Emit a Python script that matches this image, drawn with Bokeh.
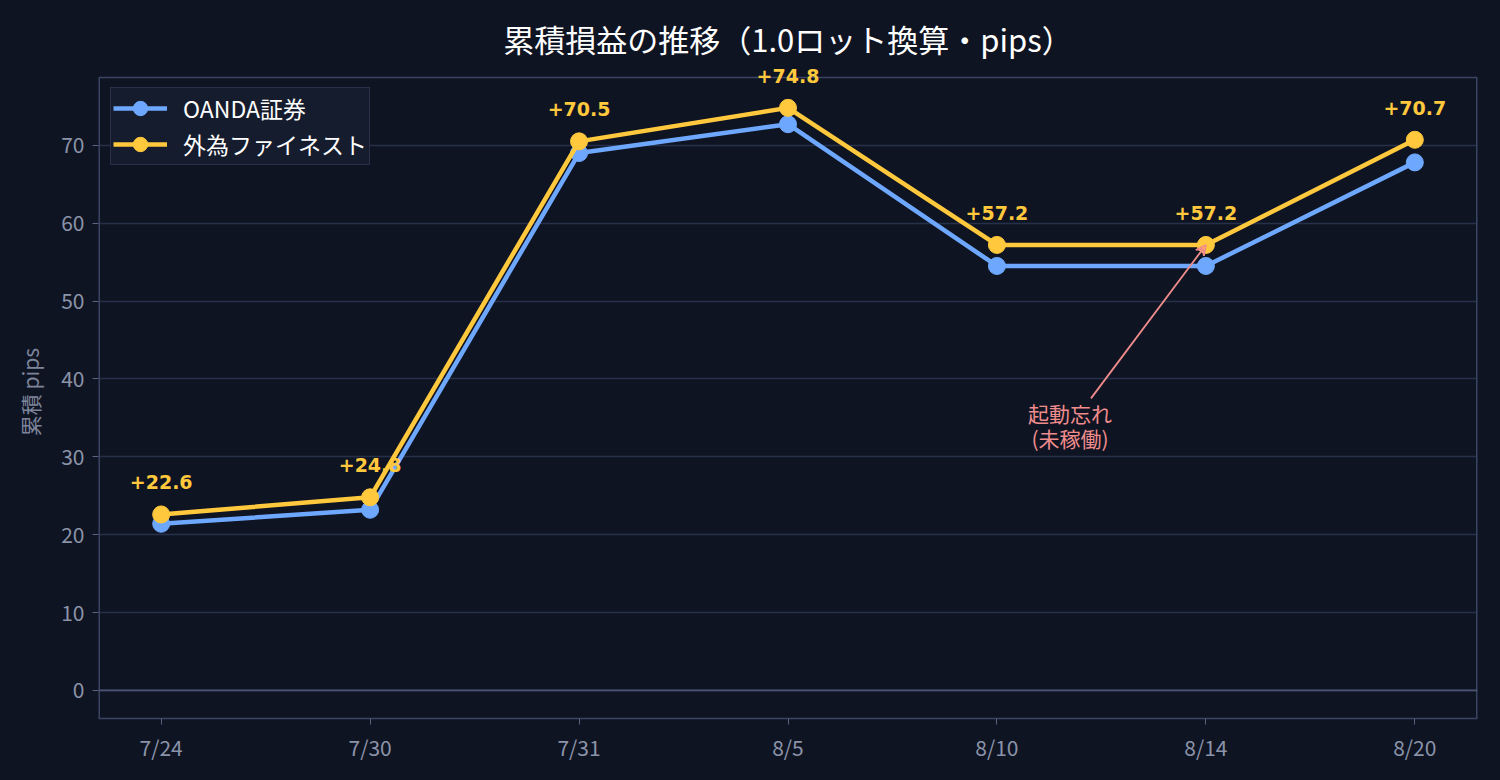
from bokeh.plotting import figure
from bokeh.models import (Range1d, FixedTicker, Span, Arrow, VeeHead, Label,
                          ColumnDataSource, Legend)
from bokeh.embed import file_html
from bokeh.resources import INLINE

# ---- data ----
dates = ["7/24", "7/30", "7/31", "8/5", "8/10", "8/14", "8/20"]
oanda = [21.4, 23.2, 69.0, 72.7, 54.5, 54.5, 67.8]
gaitame = [22.6, 24.8, 70.5, 74.8, 57.2, 57.2, 70.7]
y_ticks = [0, 10, 20, 30, 40, 50, 60, 70]
note_lines = ["起動忘れ", "(未稼働)"]
note_line_y = [35.6, 32.4]
note_text_x = 4.35
note_index = 5
note_arrow_start = (4.45, 37.5)

# axes box limits (the plotted box); the frame extends a little above it
X_LO, X_HI = -0.3, 6.3
Y_LO, Y_HI = -3.6, 78.7
Y_FRAME_TOP = 80.24

BG = "#0f1423"
BLUE = "#6ea8fe"
YELLOW = "#ffc83d"
GRID = "#263049"
SPINE = "#3b4463"
TICK = "#8a93a8"
NOTE = "#f08c8c"
FONT = "Noto Sans CJK JP"

xs = list(range(len(dates)))

p = figure(width=1484, height=764, output_backend="svg", toolbar_location=None,
           x_range=Range1d(X_LO, X_HI), y_range=Range1d(Y_LO, Y_FRAME_TOP),
           min_border_left=98, min_border_right=7, min_border_top=65,
           min_border_bottom=46)
p.background_fill_color = BG
p.border_fill_color = BG
p.outline_line_color = None

p.title.text = "累積損益の推移（1.0ロット換算・pips）"
p.title.align = "center"
p.title.text_color = "#ffffff"
p.title.text_font = FONT
p.title.text_font_size = "31px"
p.title.text_font_style = "normal"

# axes
p.xaxis.ticker = FixedTicker(ticks=xs)
p.xaxis.major_label_overrides = {i: d for i, d in enumerate(dates)}
p.yaxis.ticker = FixedTicker(ticks=y_ticks)
for ax in (p.xaxis[0], p.yaxis[0]):
    ax.axis_line_color = SPINE
    ax.axis_line_width = 1.5
    ax.major_tick_line_color = "#5a6280"
    ax.major_tick_out = 6
    ax.major_tick_in = 0
    ax.minor_tick_line_color = None
    ax.major_label_text_color = TICK
    ax.major_label_text_font = FONT
    ax.major_label_text_font_size = "21px"
p.yaxis.axis_line_color = None
p.xaxis.major_label_standoff = 7
p.yaxis.major_label_standoff = 8
p.yaxis.axis_label = "累積 pips"
p.yaxis.axis_label_text_color = "#7d859b"
p.yaxis.axis_label_text_font = FONT
p.yaxis.axis_label_text_font_size = "21px"
p.yaxis.axis_label_text_font_style = "normal"
p.yaxis.axis_label_standoff = 13

p.xgrid.grid_line_color = None
p.ygrid.grid_line_color = GRID
p.ygrid.grid_line_width = 1.5

# box spines (left, right, top)
p.segment(x0=[X_LO, X_HI, X_LO], y0=[Y_LO, Y_LO, Y_HI],
          x1=[X_LO, X_HI, X_HI], y1=[Y_HI, Y_HI, Y_HI],
          line_color=SPINE, line_width=[3, 3, 1.5])

p.add_layout(Span(location=0, dimension="width", line_color="#4b5372", line_width=1.8))

# series
src = ColumnDataSource(dict(x=xs, oanda=oanda, gaitame=gaitame))
l1 = p.line("x", "oanda", source=src, line_color=BLUE, line_width=4.5)
c1 = p.scatter("x", "oanda", source=src, size=17, fill_color=BLUE, line_color=BLUE)
l2 = p.line("x", "gaitame", source=src, line_color=YELLOW, line_width=4.5)
c2 = p.scatter("x", "gaitame", source=src, size=17, fill_color=YELLOW, line_color=YELLOW)

# value labels
for xi, v in zip(xs, gaitame):
    p.add_layout(Label(x=xi, y=v, text="+%.1f" % v, y_offset=32,
                       text_align="center", text_baseline="middle",
                       text_color=YELLOW, text_font="DejaVu Sans",
                       text_font_size="19px", text_font_style="bold"))

# annotation
p.add_layout(Arrow(end=VeeHead(size=10, line_color=NOTE, line_width=1.8, fill_color=None),
                   x_start=note_arrow_start[0], y_start=note_arrow_start[1],
                   x_end=xs[note_index], y_end=gaitame[note_index],
                   line_color=NOTE, line_width=1.8))
for txt, ty in zip(note_lines, note_line_y):
    p.add_layout(Label(x=note_text_x, y=ty, text=txt,
                       text_align="center", text_baseline="middle", text_color=NOTE,
                       text_font=FONT, text_font_size="21px"))

legend = Legend(items=[("OANDA証券", [l1, c1]), ("外為ファイネスト", [l2, c2])],
                location=(12, 553), padding=2, spacing=0,
                glyph_width=54, glyph_height=36, label_height=26, label_standoff=16,
                label_text_color="#ffffff", label_text_font=FONT,
                label_text_font_size="23px",
                background_fill_color="#161c2e", background_fill_alpha=0.95,
                border_line_color=SPINE, border_line_width=1.5)
p.add_layout(legend)

html = file_html(p, INLINE)
html = html.replace("</head>",
                    "<style>html,body{background-color:%s;}</style></head>" % BG, 1)
open("out.html", "w").write(html)
